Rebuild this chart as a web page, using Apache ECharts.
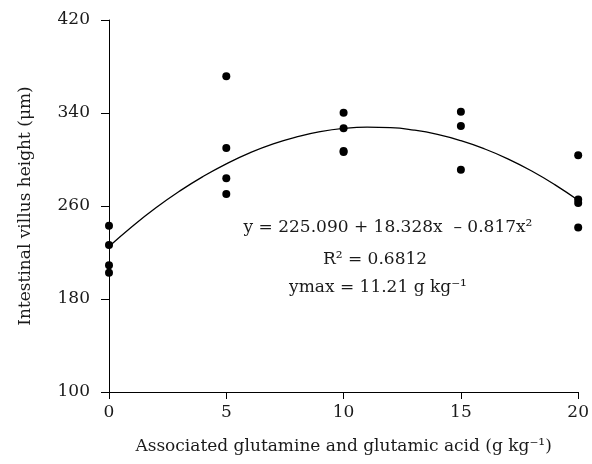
<!DOCTYPE html>
<html>
<head>
<meta charset="utf-8">
<script src="https://cdn.jsdelivr.net/npm/echarts@6/dist/echarts.min.js"></script>
<style>
  html, body { margin: 0; padding: 0; background: #fff; }
  #chart { width: 592px; height: 464px; }
</style>
</head>
<body>
<div id="chart"></div>
<script>
// Observed villus heights by dose (g/kg)
const doses = [0, 5, 10, 15, 20];
const heights0 = [243.0, 226.5, 209.0, 202.6];
const heights5 = [371.6, 309.9, 283.8, 270.3];
const heights10 = [340.3, 326.8, 307.3, 306.5];
const heights15 = [341.0, 328.8, 291.2];
const heights20 = [303.6, 265.6, 262.6, 241.4];

// Fitted quadratic
const fitX = [0, 1, 2, 3, 4, 5, 6, 7, 8, 9, 10, 11, 12, 13, 14, 15, 16, 17, 18, 19, 20];
const fitY = [225.1, 242.6, 258.5, 272.7, 285.3, 296.3, 305.7, 313.4, 319.4, 323.9,
  326.7, 327.8, 327.4, 325.3, 321.6, 316.2, 309.2, 300.6, 290.3, 278.4, 264.9];

const xTicks = [0, 5, 10, 15, 20];
const yTicks = [100, 180, 260, 340, 420];

const FONT = 'DejaVu Serif';
const INK = '#1a1a1a';

const groups = [heights0, heights5, heights10, heights15, heights20];
const points = [];
groups.forEach((g, i) => g.forEach(v => points.push([doses[i], v])));

const chart = echarts.init(document.getElementById('chart'));

const option = {
  animation: false,
  backgroundColor: '#fff',
  textStyle: { fontFamily: FONT, color: INK },
  grid: { left: 109, right: 12, top: 20, bottom: 72 },
  xAxis: {
    type: 'value',
    min: xTicks[0],
    max: xTicks[xTicks.length - 1],
    interval: 5,
    name: 'Associated glutamine and glutamic acid (g kg⁻¹)',
    nameLocation: 'middle',
    nameGap: 46,
    nameTextStyle: { fontFamily: FONT, fontSize: 17, color: INK },
    axisLine: { lineStyle: { color: '#000', width: 1 } },
    axisTick: { show: true, length: 7, lineStyle: { color: '#000' } },
    axisLabel: { fontFamily: FONT, fontSize: 17, color: INK, margin: 12 },
    splitLine: { show: false }
  },
  yAxis: {
    type: 'value',
    min: yTicks[0],
    max: yTicks[yTicks.length - 1],
    interval: 80,
    name: 'Intestinal villus height (μm)',
    nameLocation: 'middle',
    nameRotate: 90,
    nameGap: 75,
    nameTextStyle: { fontFamily: FONT, fontSize: 17, color: INK },
    axisLine: { show: true, lineStyle: { color: '#000', width: 1 } },
    axisTick: { show: true, length: 8, lineStyle: { color: '#000' } },
    axisLabel: { fontFamily: FONT, fontSize: 17, color: INK, margin: 19 },
    splitLine: { show: false }
  },
  series: [
    {
      type: 'line',
      data: fitX.map((x, i) => [x, fitY[i]]),
      smooth: true,
      showSymbol: false,
      lineStyle: { color: '#000', width: 1.3 },
      z: 2
    },
    {
      type: 'scatter',
      data: points,
      symbol: 'circle',
      symbolSize: 8,
      itemStyle: { color: '#000', opacity: 1 },
      z: 3
    }
  ],
  graphic: [
    {
      type: 'text',
      style: {
        x: 388, y: 228,
        text: 'y = 225.090 + 18.328x  – 0.817x²',
        align: 'center', verticalAlign: 'middle',
        font: '17px "DejaVu Serif"', fill: INK
      }
    },
    {
      type: 'text',
      style: {
        x: 375, y: 260,
        text: 'R² = 0.6812',
        align: 'center', verticalAlign: 'middle',
        font: '17px "DejaVu Serif"', fill: INK
      }
    },
    {
      type: 'text',
      style: {
        x: 378, y: 288,
        text: 'ymax = 11.21 g kg⁻¹',
        align: 'center', verticalAlign: 'middle',
        font: '17px "DejaVu Serif"', fill: INK
      }
    }
  ]
};

chart.setOption(option);
</script>
</body>
</html>
